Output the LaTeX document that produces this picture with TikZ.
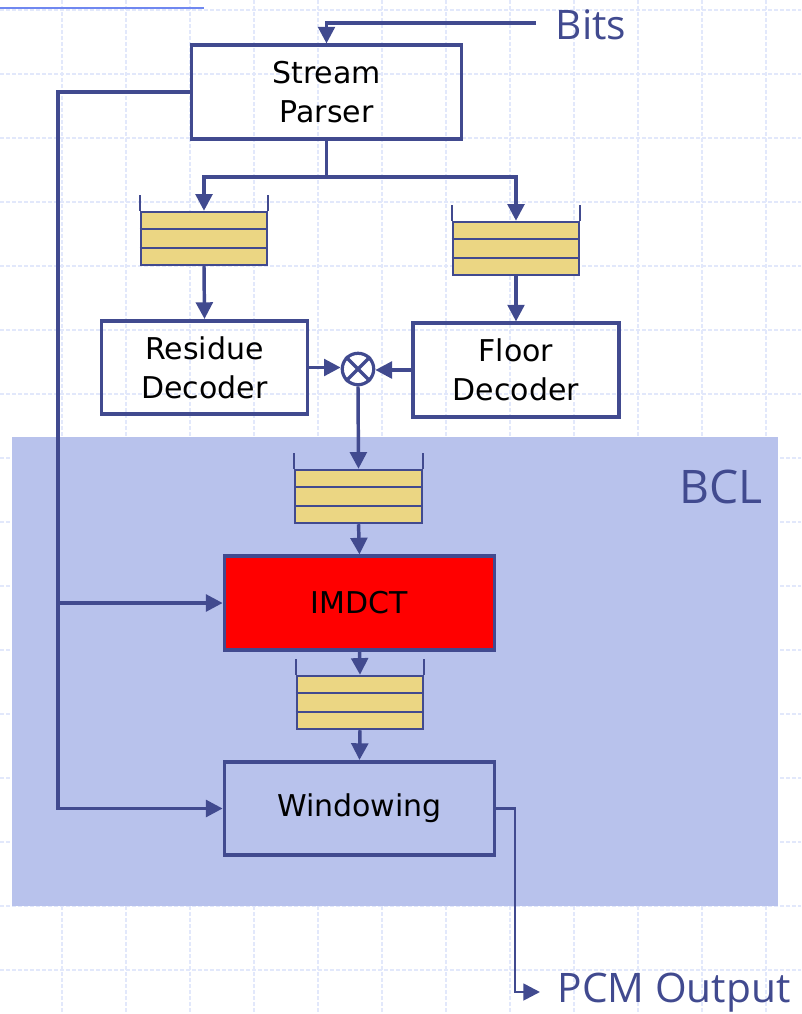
\documentclass[tikz,border=0pt]{standalone}
\usepackage{fontspec}
\setmainfont{DejaVu Sans}
\newfontfamily\labelfont{Open Sans}
\usetikzlibrary{arrows.meta, positioning, calc, backgrounds}
\definecolor{cline}{HTML}{414A8F}
\definecolor{cbcl}{HTML}{B8C2EC}
\definecolor{cfifo}{HTML}{EBD683}
\definecolor{cgrid}{HTML}{E2E8FB}
\definecolor{crule}{HTML}{7088F0}
\tikzset{
  every picture/.style={line width=2.6pt},
  block/.style={draw=cline, line width=2.8pt, minimum width=#1, minimum height=70pt, align=center, inner sep=0pt, font=\fontsize{22.5}{29}\selectfont},
  block/.default=202.5pt,
  fifo/.style={draw=cline, fill=cfifo, line width=1.6pt, minimum width=95pt, minimum height=40pt, inner sep=0pt},
  arrow/.style={-{Triangle[length=12.5pt, width=12.5pt]}, draw=cline, line width=2.6pt},
  tag/.style={font=\labelfont\fontsize{30.5}{36}\selectfont, text=cline, inner sep=0pt},
}

\begin{document}
\begin{tikzpicture}[x=0.75pt, y=-0.75pt,
  mult/.style={circle, draw=cline, line width=2.4pt, minimum size=23.6pt, inner sep=0pt},
  grid line/.style={draw=cgrid, dash pattern=on 3pt off 1.5pt, line width=0.8pt}]
  \useasboundingbox (0,0) rectangle (801,1014);
  % background grid and BCL area
  \foreach \gx in {62,126,...,766} \draw[grid line] (\gx,0) -- (\gx,1014);
  \foreach \gy in {10,74,...,970} \draw[grid line] (0,\gy) -- (801,\gy);
  \draw[crule, line width=1.8pt] (0,8) -- (204,8);
  \fill[cbcl] (12,437) rectangle (778,906);
  \node[tag, font=\labelfont\fontsize{34.7}{40}\selectfont] (bcl) at (721,487) {BCL};

  % blocks
  \node[block] (parser) at (326.5,92) {Stream\\Parser};
  \node[block=154.5pt] (residue) at (204.5,367.5) {Residue\\Decoder};
  \node[block=154.5pt] (floor) at (516,370) {Floor\\Decoder};
  \node[mult] (mult) at (358,369) {};
  \draw[cline, line width=2.4pt] (mult.north west) -- (mult.south east) (mult.north east) -- (mult.south west);
  \node[block, fill=red] (imdct) at (359.5,603) {IMDCT};
  \node[block] (window) at (359.5,808.5) {Windowing};

  % fifos
  \foreach \n/\fx/\fy in {fa/204/238.5, fb/516/248.5, fc/358.5/496.5, fd/360/702.5} {
    \node[fifo] (\n) at (\fx,\fy) {};
    \draw[cline, line width=1.6pt]
      ($(\n.north west)!1/3!(\n.south west)$) -- ($(\n.north east)!1/3!(\n.south east)$)
      ($(\n.north west)!2/3!(\n.south west)$) -- ($(\n.north east)!2/3!(\n.south east)$)
      (\n.north west) -- ++(0,-16) (\n.north east) -- ++(0,-16);
  }

  % data path
  \node[tag] (bits) at (591,25) {Bits};
  \coordinate (bitsin) at (536,23);
  \draw[arrow] (bitsin) -| (parser.north);
  \coordinate (split) at (326.5,177);
  \draw[cline] (parser.south) -- (split);
  \draw[arrow] (split) -| (fa.north);
  \draw[arrow] (split) -| (fb.north);
  \draw[arrow] (fa.south) -- (residue.north);
  \draw[arrow] (fb.south) -- (floor.north);
  \draw[arrow] (residue.east) -- (residue.east -| mult.west);
  \draw[arrow] (floor.west) -- (floor.west -| mult.east);
  \draw[arrow] (mult.south) -- (fc.north);
  \draw[arrow] (fc.south) -- (imdct.north);
  \draw[arrow] (imdct.south) -- (fd.north);
  \draw[arrow] (fd.south) -- (window.north);

  % control bus
  \coordinate (busbot) at (58,808.5);
  \draw[arrow] (parser.west) -| (busbot) -- (window.west);
  \draw[arrow] (imdct.west -| busbot) -- (imdct.west);

  % output
  \coordinate (outbend) at (515,992);
  \coordinate (pcmout) at (540,992);
  \draw[arrow, line width=2pt] (window.east) -| (outbend) -- (pcmout);
  \node[tag, anchor=west] (pcm) at (556,993) {PCM Output};
\end{tikzpicture}
\end{document}
